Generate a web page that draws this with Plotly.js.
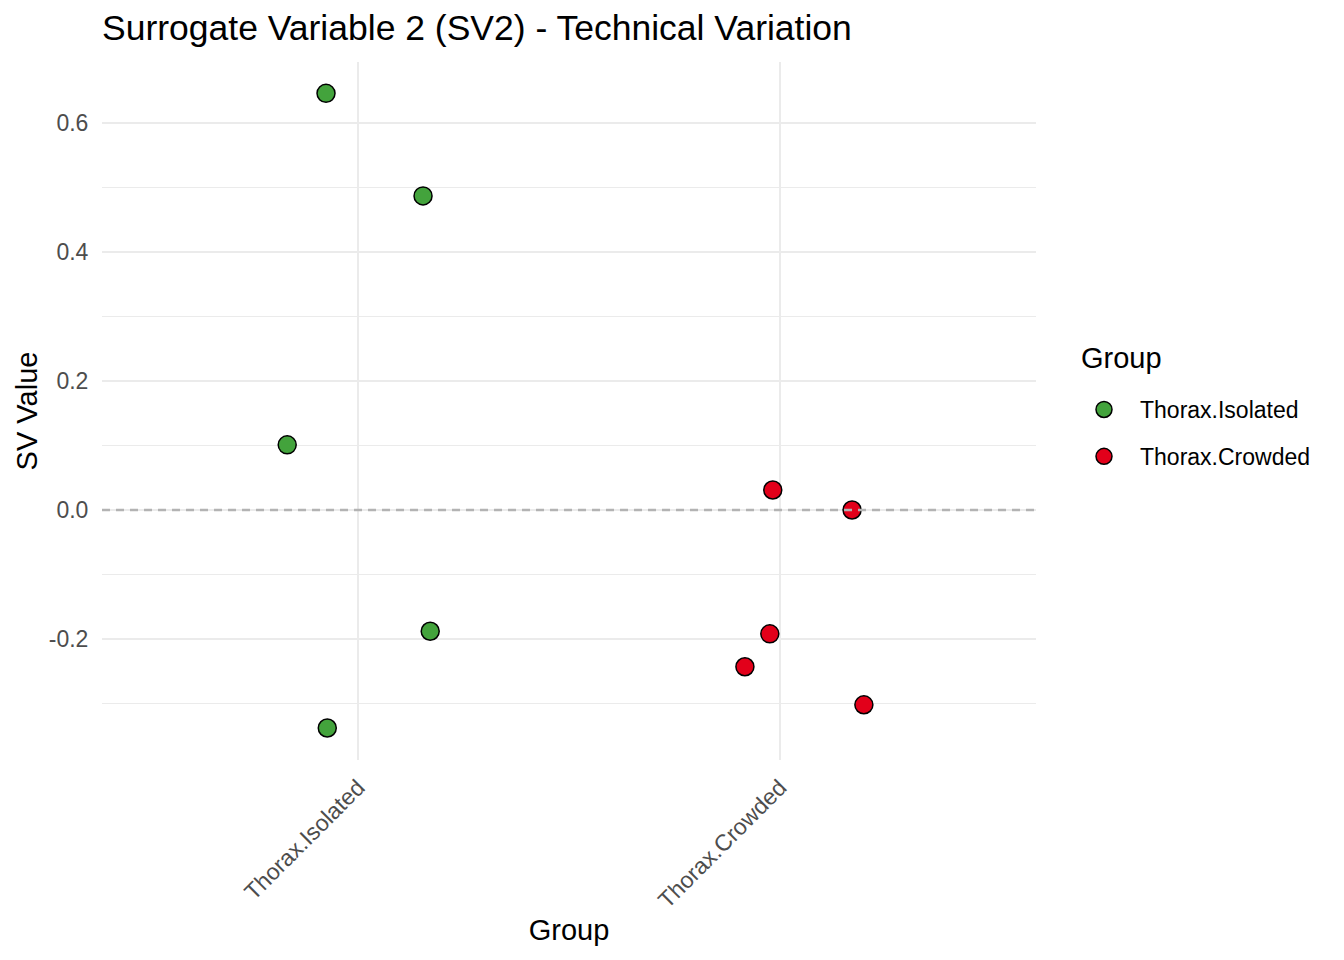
<!DOCTYPE html>
<html>
<head>
<meta charset="utf-8">
<script src="https://cdn.plot.ly/plotly-3.0.1.min.js"></script>
<style>html,body{margin:0;padding:0;background:#fff;}#chart{width:1344px;height:960px;}</style>
</head>
<body>
<div id="chart"></div>
<script>
// Data
const categories = ["Thorax.Isolated", "Thorax.Crowded"];
const colors = ["#43A33C", "#E2001A"];
const isolatedJitter = [-0.076, 0.154, -0.168, 0.171, -0.073];
const isolatedValues = [0.646, 0.487, 0.101, -0.188, -0.338];
const crowdedJitter = [-0.017, 0.171, -0.024, -0.083, 0.199];
const crowdedValues = [0.031, 0.000, -0.192, -0.243, -0.302];
const yTicks = [-0.2, 0.0, 0.2, 0.4, 0.6];
const yMinor = [-0.3, -0.1, 0.1, 0.3, 0.5];
const refLevel = 0;
const legendTitle = "Group";

const font = "Liberation Sans, Arial, Helvetica, sans-serif";
const jit = [isolatedJitter, crowdedJitter];
const vals = [isolatedValues, crowdedValues];

const traces = categories.map((c, i) => ({
  type: "scatter",
  mode: "markers",
  name: c,
  legendgroup: c,
  x: jit[i].map(j => i + 1 + j),
  y: vals[i],
  marker: {size: 18, color: colors[i], line: {color: "#000", width: 1.5}},
  hoverinfo: "x+y"
}));

const layout = {
  width: 1344, height: 960,
  margin: {l: 102, r: 308, t: 62, b: 200},
  paper_bgcolor: "#fff", plot_bgcolor: "#fff",
  font: {family: font, color: "#000"},
  title: {text: "Surrogate Variable 2 (SV2) - Technical Variation", x: 102/1344, xanchor: "left", xref: "container",
          y: 1 - 28/960, yanchor: "middle", yref: "container", font: {size: 35.5, color: "#000", family: font}},
  xaxis: {
    range: [0.393, 2.607], tickmode: "array", tickvals: [1, 2], ticktext: categories,
    tickangle: -45, tickfont: {size: 23, color: "#4D4D4D"},
    showgrid: true, gridcolor: "#EBEBEB", gridwidth: 2, zeroline: false, showline: false,
    ticks: "outside", ticklen: 4, tickcolor: "rgba(0,0,0,0)",
    title: {text: "Group", font: {size: 29, color: "#000"}, standoff: 7}
  },
  yaxis: {
    range: [-0.3876, 0.6946], tickmode: "array", tickvals: yTicks,
    ticktext: yTicks.map(v => v.toFixed(1)),
    tickfont: {size: 23, color: "#4D4D4D"},
    showgrid: true, gridcolor: "#EBEBEB", gridwidth: 2, zeroline: false, showline: false,
    minor: {tickmode: "array", tickvals: yMinor, showgrid: true, gridcolor: "#EBEBEB", gridwidth: 1},
    ticks: "outside", ticklen: 8, tickcolor: "rgba(0,0,0,0)",
    title: {text: "SV Value", font: {size: 29, color: "#000"}, standoff: 2}
  },
  shapes: [{type: "line", xref: "paper", x0: 0, x1: 1, yref: "y", y0: refLevel, y1: refLevel,
            line: {color: "#B3B3B3", width: 2.5, dash: "8px,6px"}, layer: "above"}],
  annotations: [{text: legendTitle, xref: "paper", yref: "paper", x: 1 + (1079 - 1036) / 934, y: (760 - 358) / 698,
                 xanchor: "left", yanchor: "middle", showarrow: false, font: {size: 29, color: "#000"}}],
  showlegend: true,
  legend: {x: 1 + (1068 - 1036) / 934, xanchor: "left", y: (760 - 388) / 698, yanchor: "top", yref: "paper",
           font: {size: 23, color: "#000"}, tracegroupgap: 14, itemwidth: 62, bgcolor: "rgba(0,0,0,0)"}
};

Plotly.newPlot("chart", traces, layout, {displayModeBar: false, staticPlot: true});
</script>
</body>
</html>
